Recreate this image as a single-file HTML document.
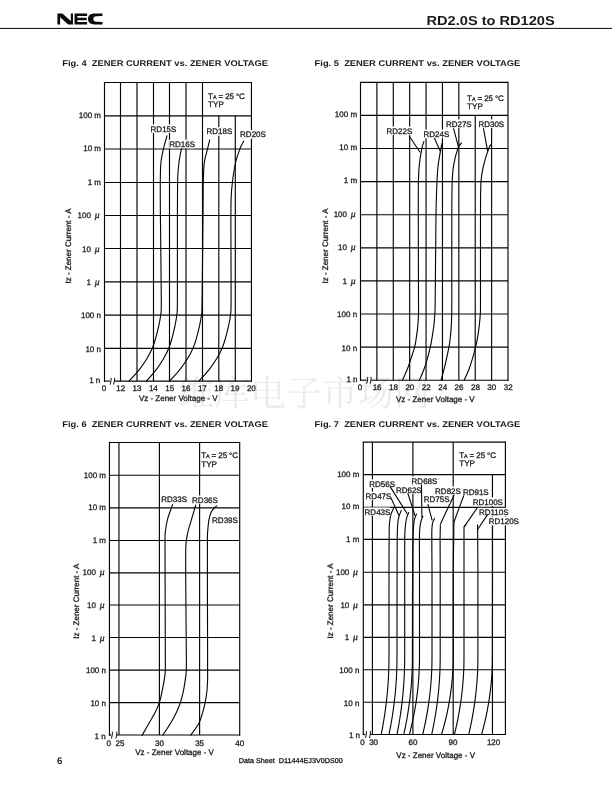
<!DOCTYPE html>
<html><head><meta charset="utf-8"><title>RD2.0S to RD120S</title>
<style>
html,body{margin:0;padding:0;background:#fff;}
body{width:612px;height:792px;overflow:hidden;font-family:"Liberation Sans", sans-serif;}
svg{display:block;}
svg text{font-family:"Liberation Sans", sans-serif;stroke:#1e1e1e;stroke-width:0.3px;text-rendering:geometricPrecision;}
svg{filter:grayscale(1);}
</style></head><body>
<svg width="612" height="792" viewBox="0 0 612 792">
<rect x="0" y="0" width="612" height="792" fill="#ffffff"/>
<text x="178" y="405.5" font-size="36" textLength="252" lengthAdjust="spacingAndGlyphs" style='font-family:"Liberation Serif","Noto Serif CJK SC",serif;stroke:none' fill="#ebebeb">维库电子市场网</text>
<line x1="0.00" y1="28.40" x2="612.00" y2="28.40" stroke="#050505" stroke-width="1.0"/>
<g fill="#0c0c0c"><path d="M57.4,24.4 V13.6 H62.4 L70.8,21.1 V13.6 H73.0 V24.4 H68.1 L60.1,17.2 V24.4 Z"/><path d="M74.5,13.6 H87.1 V16.0 H77.4 V17.8 H86.7 V20.2 H77.4 V22.1 H87.1 V24.4 H74.5 Z"/><path d="M102.5,13.6 V15.9 L96.5,16.2 C94.3,16.2 93.3,17.4 93.3,19.0 C93.3,20.6 94.3,21.8 96.5,21.8 L102.5,22.1 V24.4 H94.5 C90.3,24.4 88.0,22.2 88.0,19.0 C88.0,15.8 90.3,13.6 94.5,13.6 Z"/></g>
<text x="426.5" y="24.7" font-size="13" font-weight="bold" style="stroke:none" textLength="128.2" lengthAdjust="spacingAndGlyphs" fill="#1a1a1a">RD2.0S to RD120S</text>
<text x="62.3" y="66.0" font-size="8.3" font-weight="bold" style="stroke:none" textLength="205.6" lengthAdjust="spacingAndGlyphs" fill="#1a1a1a">Fig. 4&#160;&#160;ZENER CURRENT vs. ZENER VOLTAGE</text>
<line x1="104.50" y1="82.45" x2="251.45" y2="82.45" stroke="#050505" stroke-width="1.15"/>
<line x1="104.50" y1="115.80" x2="251.45" y2="115.80" stroke="#050505" stroke-width="1.15"/>
<line x1="104.50" y1="149.00" x2="251.45" y2="149.00" stroke="#050505" stroke-width="1.15"/>
<line x1="104.50" y1="182.45" x2="251.45" y2="182.45" stroke="#050505" stroke-width="1.15"/>
<line x1="104.50" y1="215.50" x2="251.45" y2="215.50" stroke="#050505" stroke-width="1.15"/>
<line x1="104.50" y1="248.50" x2="251.45" y2="248.50" stroke="#050505" stroke-width="1.15"/>
<line x1="104.50" y1="281.80" x2="251.45" y2="281.80" stroke="#050505" stroke-width="1.15"/>
<line x1="104.50" y1="315.10" x2="251.45" y2="315.10" stroke="#050505" stroke-width="1.15"/>
<line x1="104.50" y1="348.40" x2="251.45" y2="348.40" stroke="#050505" stroke-width="1.15"/>
<line x1="103.92" y1="381.10" x2="110.00" y2="381.10" stroke="#050505" stroke-width="1.15"/>
<line x1="114.30" y1="381.10" x2="252.02" y2="381.10" stroke="#050505" stroke-width="1.15"/>
<path d="M111.10,377.80 Q111.50,380.60 110.10,384.60" fill="none" stroke="#050505" stroke-width="0.95"/>
<path d="M114.50,377.80 Q114.90,380.60 113.50,384.60" fill="none" stroke="#050505" stroke-width="0.95"/>
<line x1="104.50" y1="81.88" x2="104.50" y2="381.68" stroke="#050505" stroke-width="1.15"/>
<line x1="251.45" y1="81.88" x2="251.45" y2="381.68" stroke="#050505" stroke-width="1.15"/>
<line x1="120.50" y1="82.45" x2="120.50" y2="381.10" stroke="#050505" stroke-width="1.15"/>
<line x1="137.00" y1="82.45" x2="137.00" y2="381.10" stroke="#050505" stroke-width="1.15"/>
<line x1="153.50" y1="82.45" x2="153.50" y2="381.10" stroke="#050505" stroke-width="1.15"/>
<line x1="169.50" y1="82.45" x2="169.50" y2="381.10" stroke="#050505" stroke-width="1.15"/>
<line x1="186.00" y1="82.45" x2="186.00" y2="381.10" stroke="#050505" stroke-width="1.15"/>
<line x1="202.50" y1="82.45" x2="202.50" y2="381.10" stroke="#050505" stroke-width="1.15"/>
<line x1="218.80" y1="115.80" x2="218.80" y2="381.10" stroke="#050505" stroke-width="1.15"/>
<line x1="235.30" y1="115.80" x2="235.30" y2="381.10" stroke="#050505" stroke-width="1.15"/>
<text x="208.1" y="98.9" font-size="8" textLength="36.8" fill="#1e1e1e">T<tspan font-size="5.4">A</tspan> = 25 &#176;C</text>
<text x="208.1" y="106.65" font-size="8.1" fill="#1e1e1e">TYP</text>
<text x="101.00" y="117.90" font-size="8" text-anchor="end" fill="#1e1e1e">100 m</text>
<text x="101.00" y="151.32" font-size="8" text-anchor="end" fill="#1e1e1e">10 m</text>
<text x="101.00" y="184.74" font-size="8" text-anchor="end" fill="#1e1e1e">1 m</text>
<text x="90.90" y="218.16" font-size="8" text-anchor="end" fill="#1e1e1e">100</text>
<text x="94.70" y="218.16" font-size="9.6" font-style="italic" style='font-family:"Liberation Serif",serif' fill="#1e1e1e">&#956;</text>
<text x="90.90" y="251.58" font-size="8" text-anchor="end" fill="#1e1e1e">10</text>
<text x="94.70" y="251.58" font-size="9.6" font-style="italic" style='font-family:"Liberation Serif",serif' fill="#1e1e1e">&#956;</text>
<text x="90.90" y="285.00" font-size="8" text-anchor="end" fill="#1e1e1e">1</text>
<text x="94.70" y="285.00" font-size="9.6" font-style="italic" style='font-family:"Liberation Serif",serif' fill="#1e1e1e">&#956;</text>
<text x="101.00" y="318.42" font-size="8" text-anchor="end" fill="#1e1e1e">100 n</text>
<text x="101.00" y="351.84" font-size="8" text-anchor="end" fill="#1e1e1e">10 n</text>
<text x="100.3" y="382.5" font-size="8" text-anchor="end" fill="#1e1e1e">1 n</text>
<text transform="translate(71.2,246.0) rotate(-90)" font-size="8" text-anchor="middle" fill="#1e1e1e">Iz - Zener Current - A</text>
<text x="103.9" y="390.5" font-size="8" text-anchor="middle" fill="#1e1e1e">0</text>
<text x="120.73" y="390.5" font-size="8" text-anchor="middle" fill="#1e1e1e">12</text>
<text x="137.06" y="390.5" font-size="8" text-anchor="middle" fill="#1e1e1e">13</text>
<text x="153.39000000000001" y="390.5" font-size="8" text-anchor="middle" fill="#1e1e1e">14</text>
<text x="169.72" y="390.5" font-size="8" text-anchor="middle" fill="#1e1e1e">15</text>
<text x="186.04999999999998" y="390.5" font-size="8" text-anchor="middle" fill="#1e1e1e">16</text>
<text x="202.38" y="390.5" font-size="8" text-anchor="middle" fill="#1e1e1e">17</text>
<text x="218.71" y="390.5" font-size="8" text-anchor="middle" fill="#1e1e1e">18</text>
<text x="235.04" y="390.5" font-size="8" text-anchor="middle" fill="#1e1e1e">19</text>
<text x="251.36999999999998" y="390.5" font-size="8" text-anchor="middle" fill="#1e1e1e">20</text>
<text x="138.9" y="400.8" font-size="8" fill="#1e1e1e">Vz - Zener Voltage - V</text>
<path d="M167.00,135.90 C166.40,138.10 164.42,144.67 163.40,149.10 C162.38,153.53 161.42,156.98 160.90,162.50 C160.38,168.02 160.38,173.45 160.30,182.20 C160.22,190.95 160.23,195.37 160.40,215.00 C160.57,234.63 161.25,283.38 161.30,300.00 C161.35,316.62 161.13,310.38 160.70,314.73 C160.27,319.08 159.58,322.02 158.70,326.10 C157.82,330.18 156.45,335.56 155.40,339.20 C154.35,342.84 153.83,344.65 152.40,347.91 C150.97,351.18 148.95,355.24 146.80,358.80 C144.65,362.36 142.45,365.58 139.50,369.30 C136.55,373.02 130.83,379.13 129.10,381.10" fill="none" stroke="#050505" stroke-width="1.12" stroke-linecap="round"/>
<path d="M181.80,147.30 C181.43,149.08 180.20,154.22 179.60,158.00 C179.00,161.78 178.53,165.97 178.20,170.00 C177.87,174.03 177.73,174.70 177.60,182.20 C177.47,189.70 177.43,195.37 177.40,215.00 C177.37,234.63 177.50,283.38 177.40,300.00 C177.30,316.62 177.24,310.38 176.82,314.73 C176.41,319.08 175.75,322.02 174.90,326.10 C174.06,330.18 172.74,335.56 171.74,339.20 C170.73,342.84 170.23,344.65 168.86,347.91 C167.48,351.18 165.54,355.24 163.48,358.80 C161.42,362.36 159.30,365.58 156.47,369.30 C153.64,373.02 148.15,379.13 146.49,381.10" fill="none" stroke="#050505" stroke-width="1.12" stroke-linecap="round"/>
<path d="M209.70,139.80 C209.33,141.35 208.40,145.32 207.50,149.10 C206.60,152.88 205.00,156.98 204.30,162.50 C203.60,168.02 203.52,173.45 203.30,182.20 C203.08,190.95 203.20,195.37 203.00,215.00 C202.80,234.63 202.35,283.38 202.10,300.00 C201.85,316.62 201.93,310.38 201.49,314.73 C201.06,319.08 200.37,322.02 199.47,326.10 C198.58,330.18 197.20,335.56 196.14,339.20 C195.08,342.84 194.56,344.65 193.11,347.91 C191.66,351.18 189.63,355.24 187.45,358.80 C185.28,362.36 183.06,365.58 180.08,369.30 C177.10,373.02 171.33,379.13 169.58,381.10" fill="none" stroke="#050505" stroke-width="1.12" stroke-linecap="round"/>
<path d="M243.70,141.20 C243.05,142.52 241.15,145.55 239.80,149.10 C238.45,152.65 236.83,156.98 235.60,162.50 C234.37,168.02 233.15,176.12 232.40,182.20 C231.65,188.28 231.35,191.03 231.10,199.00 C230.85,206.97 230.90,213.17 230.90,230.00 C230.90,246.83 231.17,285.88 231.10,300.00 C231.03,314.12 230.93,310.38 230.50,314.73 C230.07,319.08 229.38,322.02 228.50,326.10 C227.62,330.18 226.25,335.56 225.20,339.20 C224.15,342.84 223.63,344.65 222.20,347.91 C220.77,351.18 218.75,355.24 216.60,358.80 C214.45,362.36 212.25,365.58 209.30,369.30 C206.35,373.02 200.63,379.13 198.90,381.10" fill="none" stroke="#050505" stroke-width="1.12" stroke-linecap="round"/>
<rect x="150.20" y="124.40" width="25.60" height="8.6" fill="#fff"/>
<rect x="168.90" y="139.70" width="25.90" height="8.6" fill="#fff"/>
<rect x="206.10" y="127.10" width="25.50" height="8.6" fill="#fff"/>
<rect x="239.70" y="130.00" width="25.50" height="8.6" fill="#fff"/>
<text x="150.60" y="131.60" font-size="8" fill="#1e1e1e">RD15S</text>
<text x="169.30" y="146.90" font-size="8" fill="#1e1e1e">RD16S</text>
<text x="206.50" y="134.30" font-size="8" fill="#1e1e1e">RD18S</text>
<text x="240.10" y="137.20" font-size="8" fill="#1e1e1e">RD20S</text>
<text x="314.6" y="66.0" font-size="8.3" font-weight="bold" style="stroke:none" textLength="205.6" lengthAdjust="spacingAndGlyphs" fill="#1a1a1a">Fig. 5&#160;&#160;ZENER CURRENT vs. ZENER VOLTAGE</text>
<line x1="360.50" y1="82.30" x2="508.00" y2="82.30" stroke="#050505" stroke-width="1.15"/>
<line x1="360.50" y1="115.40" x2="508.00" y2="115.40" stroke="#050505" stroke-width="1.15"/>
<line x1="360.50" y1="148.50" x2="508.00" y2="148.50" stroke="#050505" stroke-width="1.15"/>
<line x1="360.50" y1="181.60" x2="508.00" y2="181.60" stroke="#050505" stroke-width="1.15"/>
<line x1="360.50" y1="214.70" x2="508.00" y2="214.70" stroke="#050505" stroke-width="1.15"/>
<line x1="360.50" y1="247.80" x2="508.00" y2="247.80" stroke="#050505" stroke-width="1.15"/>
<line x1="360.50" y1="280.90" x2="508.00" y2="280.90" stroke="#050505" stroke-width="1.15"/>
<line x1="360.50" y1="314.00" x2="508.00" y2="314.00" stroke="#050505" stroke-width="1.15"/>
<line x1="360.50" y1="347.10" x2="508.00" y2="347.10" stroke="#050505" stroke-width="1.15"/>
<line x1="359.93" y1="380.20" x2="366.60" y2="380.20" stroke="#050505" stroke-width="1.15"/>
<line x1="370.90" y1="380.20" x2="508.57" y2="380.20" stroke="#050505" stroke-width="1.15"/>
<path d="M367.70,376.90 Q368.10,379.70 366.70,383.70" fill="none" stroke="#050505" stroke-width="0.95"/>
<path d="M371.10,376.90 Q371.50,379.70 370.10,383.70" fill="none" stroke="#050505" stroke-width="0.95"/>
<line x1="360.50" y1="81.72" x2="360.50" y2="380.78" stroke="#050505" stroke-width="1.15"/>
<line x1="508.00" y1="81.72" x2="508.00" y2="380.78" stroke="#050505" stroke-width="1.15"/>
<line x1="376.89" y1="82.30" x2="376.89" y2="380.20" stroke="#050505" stroke-width="1.15"/>
<line x1="393.28" y1="82.30" x2="393.28" y2="380.20" stroke="#050505" stroke-width="1.15"/>
<line x1="409.67" y1="82.30" x2="409.67" y2="380.20" stroke="#050505" stroke-width="1.15"/>
<line x1="426.06" y1="82.30" x2="426.06" y2="380.20" stroke="#050505" stroke-width="1.15"/>
<line x1="442.45" y1="82.30" x2="442.45" y2="380.20" stroke="#050505" stroke-width="1.15"/>
<line x1="458.84" y1="82.30" x2="458.84" y2="380.20" stroke="#050505" stroke-width="1.15"/>
<line x1="475.23" y1="115.40" x2="475.23" y2="380.20" stroke="#050505" stroke-width="1.15"/>
<line x1="491.62" y1="115.40" x2="491.62" y2="380.20" stroke="#050505" stroke-width="1.15"/>
<text x="467.1" y="100.65" font-size="8" textLength="36.8" fill="#1e1e1e">T<tspan font-size="5.4">A</tspan> = 25 &#176;C</text>
<text x="467.1" y="108.50" font-size="8.1" fill="#1e1e1e">TYP</text>
<text x="357.10" y="116.65" font-size="8" text-anchor="end" fill="#1e1e1e">100 m</text>
<text x="357.10" y="150.07" font-size="8" text-anchor="end" fill="#1e1e1e">10 m</text>
<text x="357.10" y="183.49" font-size="8" text-anchor="end" fill="#1e1e1e">1 m</text>
<text x="347.00" y="216.91" font-size="8" text-anchor="end" fill="#1e1e1e">100</text>
<text x="350.80" y="216.91" font-size="9.6" font-style="italic" style='font-family:"Liberation Serif",serif' fill="#1e1e1e">&#956;</text>
<text x="347.00" y="250.33" font-size="8" text-anchor="end" fill="#1e1e1e">10</text>
<text x="350.80" y="250.33" font-size="9.6" font-style="italic" style='font-family:"Liberation Serif",serif' fill="#1e1e1e">&#956;</text>
<text x="347.00" y="283.75" font-size="8" text-anchor="end" fill="#1e1e1e">1</text>
<text x="350.80" y="283.75" font-size="9.6" font-style="italic" style='font-family:"Liberation Serif",serif' fill="#1e1e1e">&#956;</text>
<text x="357.10" y="317.17" font-size="8" text-anchor="end" fill="#1e1e1e">100 n</text>
<text x="357.10" y="350.59" font-size="8" text-anchor="end" fill="#1e1e1e">10 n</text>
<text x="357.5" y="381.8" font-size="8" text-anchor="end" fill="#1e1e1e">1 n</text>
<text transform="translate(327.8,246.0) rotate(-90)" font-size="8" text-anchor="middle" fill="#1e1e1e">Iz - Zener Current - A</text>
<text x="359.9" y="389.6" font-size="8" text-anchor="middle" fill="#1e1e1e">0</text>
<text x="377.09" y="389.6" font-size="8" text-anchor="middle" fill="#1e1e1e">16</text>
<text x="393.47999999999996" y="389.6" font-size="8" text-anchor="middle" fill="#1e1e1e">18</text>
<text x="409.87" y="389.6" font-size="8" text-anchor="middle" fill="#1e1e1e">20</text>
<text x="426.26" y="389.6" font-size="8" text-anchor="middle" fill="#1e1e1e">22</text>
<text x="442.65" y="389.6" font-size="8" text-anchor="middle" fill="#1e1e1e">24</text>
<text x="459.04" y="389.6" font-size="8" text-anchor="middle" fill="#1e1e1e">26</text>
<text x="475.43" y="389.6" font-size="8" text-anchor="middle" fill="#1e1e1e">28</text>
<text x="491.82" y="389.6" font-size="8" text-anchor="middle" fill="#1e1e1e">30</text>
<text x="508.21" y="389.6" font-size="8" text-anchor="middle" fill="#1e1e1e">32</text>
<text x="396.0" y="402.0" font-size="8" fill="#1e1e1e">Vz - Zener Voltage - V</text>
<path d="M423.90,141.60 C423.57,142.73 422.67,144.52 421.90,148.40 C421.13,152.28 419.88,159.37 419.30,164.90 C418.72,170.43 418.57,173.25 418.40,181.60 C418.23,189.95 418.28,195.27 418.30,215.00 C418.32,234.73 418.47,283.50 418.50,300.00 C418.53,316.50 418.62,309.65 418.50,314.00 C418.38,318.35 418.20,321.90 417.80,326.10 C417.40,330.30 416.63,335.70 416.10,339.20 C415.57,342.70 415.47,343.83 414.60,347.10 C413.73,350.37 412.12,355.10 410.90,358.80 C409.68,362.50 408.72,365.73 407.30,369.30 C405.88,372.87 403.22,378.38 402.40,380.20" fill="none" stroke="#050505" stroke-width="1.12" stroke-linecap="round"/>
<path d="M442.20,143.00 C442.00,143.90 441.67,144.75 441.00,148.40 C440.33,152.05 438.87,159.37 438.20,164.90 C437.53,170.43 437.37,173.25 437.00,181.60 C436.63,189.95 436.30,195.27 436.00,215.00 C435.70,234.73 435.40,283.50 435.20,300.00 C435.00,316.50 435.03,309.65 434.80,314.00 C434.57,318.35 434.30,321.90 433.80,326.10 C433.30,330.30 432.38,335.70 431.80,339.20 C431.22,342.70 431.05,343.83 430.30,347.10 C429.55,350.37 428.35,355.10 427.30,358.80 C426.25,362.50 425.32,365.73 424.00,369.30 C422.68,372.87 420.17,378.38 419.40,380.20" fill="none" stroke="#050505" stroke-width="1.12" stroke-linecap="round"/>
<path d="M461.60,143.00 C460.98,143.90 459.22,144.75 457.90,148.40 C456.58,152.05 454.65,159.37 453.70,164.90 C452.75,170.43 452.52,173.25 452.20,181.60 C451.88,189.95 451.87,195.27 451.80,215.00 C451.73,234.73 451.82,283.50 451.80,300.00 C451.78,316.50 451.78,309.65 451.70,314.00 C451.62,318.35 451.57,321.90 451.30,326.10 C451.03,330.30 450.50,335.70 450.10,339.20 C449.70,342.70 449.50,343.83 448.90,347.10 C448.30,350.37 447.32,355.10 446.50,358.80 C445.68,362.50 444.90,365.73 444.00,369.30 C443.10,372.87 441.58,378.38 441.10,380.20" fill="none" stroke="#050505" stroke-width="1.12" stroke-linecap="round"/>
<path d="M491.30,144.30 C490.88,144.98 490.07,144.97 488.80,148.40 C487.53,151.83 485.00,159.37 483.70,164.90 C482.40,170.43 481.53,173.25 481.00,181.60 C480.47,189.95 480.58,195.27 480.50,215.00 C480.42,234.73 480.53,283.50 480.50,300.00 C480.47,316.50 480.52,309.65 480.30,314.00 C480.08,318.35 479.70,321.90 479.20,326.10 C478.70,330.30 477.90,335.70 477.30,339.20 C476.70,342.70 476.42,343.83 475.60,347.10 C474.78,350.37 473.50,355.10 472.40,358.80 C471.30,362.50 470.37,365.73 469.00,369.30 C467.63,372.87 465.00,378.38 464.20,380.20" fill="none" stroke="#050505" stroke-width="1.12" stroke-linecap="round"/>
<rect x="386.10" y="126.50" width="25.80" height="8.6" fill="#fff"/>
<rect x="423.10" y="129.50" width="26.10" height="8.6" fill="#fff"/>
<rect x="445.50" y="119.40" width="26.00" height="8.6" fill="#fff"/>
<rect x="478.00" y="119.40" width="26.10" height="8.6" fill="#fff"/>
<path d="M409.30,136.30 L419.90,152.00" fill="none" stroke="#050505" stroke-width="1.1" stroke-linecap="round"/>
<path d="M434.50,138.20 L439.90,150.60" fill="none" stroke="#050505" stroke-width="1.1" stroke-linecap="round"/>
<path d="M453.60,128.60 L458.50,147.20" fill="none" stroke="#050505" stroke-width="1.1" stroke-linecap="round"/>
<path d="M483.50,128.60 L487.60,150.80" fill="none" stroke="#050505" stroke-width="1.1" stroke-linecap="round"/>
<text x="386.50" y="133.70" font-size="8" fill="#1e1e1e">RD22S</text>
<text x="423.50" y="136.70" font-size="8" fill="#1e1e1e">RD24S</text>
<text x="445.90" y="126.60" font-size="8" fill="#1e1e1e">RD27S</text>
<text x="478.40" y="126.60" font-size="8" fill="#1e1e1e">RD30S</text>
<text x="62.3" y="426.5" font-size="8.3" font-weight="bold" style="stroke:none" textLength="205.6" lengthAdjust="spacingAndGlyphs" fill="#1a1a1a">Fig. 6&#160;&#160;ZENER CURRENT vs. ZENER VOLTAGE</text>
<line x1="109.45" y1="442.45" x2="239.70" y2="442.45" stroke="#050505" stroke-width="1.15"/>
<line x1="109.45" y1="475.20" x2="239.70" y2="475.20" stroke="#050505" stroke-width="1.15"/>
<line x1="109.45" y1="507.80" x2="239.70" y2="507.80" stroke="#050505" stroke-width="1.15"/>
<line x1="109.45" y1="540.50" x2="239.70" y2="540.50" stroke="#050505" stroke-width="1.15"/>
<line x1="109.45" y1="572.80" x2="239.70" y2="572.80" stroke="#050505" stroke-width="1.15"/>
<line x1="109.45" y1="605.00" x2="239.70" y2="605.00" stroke="#050505" stroke-width="1.15"/>
<line x1="109.45" y1="637.50" x2="239.70" y2="637.50" stroke="#050505" stroke-width="1.15"/>
<line x1="109.45" y1="670.10" x2="239.70" y2="670.10" stroke="#050505" stroke-width="1.15"/>
<line x1="109.45" y1="702.60" x2="239.70" y2="702.60" stroke="#050505" stroke-width="1.15"/>
<line x1="108.88" y1="735.00" x2="111.30" y2="735.00" stroke="#050505" stroke-width="1.15"/>
<line x1="116.60" y1="735.00" x2="240.27" y2="735.00" stroke="#050505" stroke-width="1.15"/>
<path d="M112.40,731.70 Q112.80,734.50 111.40,738.50" fill="none" stroke="#050505" stroke-width="0.95"/>
<path d="M116.80,731.70 Q117.20,734.50 115.80,738.50" fill="none" stroke="#050505" stroke-width="0.95"/>
<line x1="109.45" y1="441.82" x2="109.45" y2="735.58" stroke="#050505" stroke-width="1.15"/>
<line x1="239.70" y1="441.82" x2="239.70" y2="735.58" stroke="#050505" stroke-width="1.15"/>
<line x1="118.95" y1="442.40" x2="118.95" y2="735.00" stroke="#050505" stroke-width="1.15"/>
<line x1="159.40" y1="442.40" x2="159.40" y2="735.00" stroke="#050505" stroke-width="1.15"/>
<line x1="199.60" y1="442.40" x2="199.60" y2="735.00" stroke="#050505" stroke-width="1.15"/>
<text x="201.2" y="457.75" font-size="8" textLength="36.8" fill="#1e1e1e">T<tspan font-size="5.4">A</tspan> = 25 &#176;C</text>
<text x="201.2" y="466.55" font-size="8.1" fill="#1e1e1e">TYP</text>
<text x="106.00" y="477.50" font-size="8" text-anchor="end" fill="#1e1e1e">100 m</text>
<text x="106.00" y="510.10" font-size="8" text-anchor="end" fill="#1e1e1e">10 m</text>
<text x="106.00" y="542.70" font-size="8" text-anchor="end" fill="#1e1e1e">1 m</text>
<text x="95.90" y="575.30" font-size="8" text-anchor="end" fill="#1e1e1e">100</text>
<text x="99.70" y="575.30" font-size="9.6" font-style="italic" style='font-family:"Liberation Serif",serif' fill="#1e1e1e">&#956;</text>
<text x="95.90" y="607.90" font-size="8" text-anchor="end" fill="#1e1e1e">10</text>
<text x="99.70" y="607.90" font-size="9.6" font-style="italic" style='font-family:"Liberation Serif",serif' fill="#1e1e1e">&#956;</text>
<text x="95.90" y="640.50" font-size="8" text-anchor="end" fill="#1e1e1e">1</text>
<text x="99.70" y="640.50" font-size="9.6" font-style="italic" style='font-family:"Liberation Serif",serif' fill="#1e1e1e">&#956;</text>
<text x="106.00" y="673.10" font-size="8" text-anchor="end" fill="#1e1e1e">100 n</text>
<text x="106.00" y="705.70" font-size="8" text-anchor="end" fill="#1e1e1e">10 n</text>
<text x="105.6" y="738.7" font-size="8" text-anchor="end" fill="#1e1e1e">1 n</text>
<text transform="translate(79.4,601.2) rotate(-90)" font-size="8" text-anchor="middle" fill="#1e1e1e">Iz - Zener Current - A</text>
<text x="108.8" y="745.7" font-size="8" text-anchor="middle" fill="#1e1e1e">0</text>
<text x="119.9" y="745.7" font-size="8" text-anchor="middle" fill="#1e1e1e">25</text>
<text x="159.4" y="745.7" font-size="8" text-anchor="middle" fill="#1e1e1e">30</text>
<text x="199.6" y="745.7" font-size="8" text-anchor="middle" fill="#1e1e1e">35</text>
<text x="239.8" y="745.7" font-size="8" text-anchor="middle" fill="#1e1e1e">40</text>
<text x="135.2" y="755.2" font-size="8" fill="#1e1e1e">Vz - Zener Voltage - V</text>
<path d="M172.60,504.70 C172.42,505.18 172.35,505.15 171.50,507.60 C170.65,510.05 168.52,515.47 167.50,519.40 C166.48,523.33 165.82,527.72 165.40,531.20 C164.98,534.68 165.05,532.17 165.00,540.30 C164.95,548.43 165.05,561.72 165.10,580.00 C165.15,598.28 165.27,634.98 165.30,650.00 C165.33,665.02 165.47,665.20 165.30,670.10 C165.13,675.00 164.83,675.88 164.30,679.40 C163.77,682.92 162.92,687.33 162.10,691.20 C161.28,695.07 160.63,698.96 159.40,702.62 C158.17,706.29 156.47,709.72 154.70,713.20 C152.93,716.68 150.88,719.84 148.80,723.50 C146.72,727.16 143.30,733.21 142.20,735.15" fill="none" stroke="#050505" stroke-width="1.12" stroke-linecap="round"/>
<path d="M195.70,505.10 C195.58,505.52 195.70,505.22 195.00,507.60 C194.30,509.98 192.65,515.47 191.50,519.40 C190.35,523.33 188.95,527.72 188.10,531.20 C187.25,534.68 186.80,536.87 186.40,540.30 C186.00,543.73 185.80,543.52 185.70,551.80 C185.60,560.08 185.70,573.63 185.80,590.00 C185.90,606.37 186.22,636.65 186.30,650.00 C186.38,663.35 186.47,665.20 186.30,670.10 C186.13,675.00 185.78,675.88 185.30,679.40 C184.82,682.92 184.22,687.33 183.40,691.20 C182.58,695.07 181.63,698.96 180.40,702.62 C179.17,706.29 177.67,709.72 176.00,713.20 C174.33,716.68 172.60,719.84 170.40,723.50 C168.20,727.16 164.07,733.21 162.80,735.15" fill="none" stroke="#050505" stroke-width="1.12" stroke-linecap="round"/>
<path d="M216.80,505.90 C216.43,506.18 215.52,506.58 214.60,507.60 C213.68,508.62 212.23,510.03 211.30,512.00 C210.37,513.97 209.60,516.20 209.00,519.40 C208.40,522.60 207.97,527.72 207.70,531.20 C207.43,534.68 207.45,532.17 207.40,540.30 C207.35,548.43 207.37,561.72 207.40,580.00 C207.43,598.28 207.57,634.98 207.60,650.00 C207.63,665.02 207.60,665.20 207.60,670.10 C207.60,675.00 207.72,675.88 207.60,679.40 C207.48,682.92 207.32,687.33 206.90,691.20 C206.48,695.07 205.83,698.96 205.10,702.62 C204.37,706.29 203.55,709.72 202.50,713.20 C201.45,716.68 200.77,719.84 198.80,723.50 C196.83,727.16 192.05,733.21 190.70,735.15" fill="none" stroke="#050505" stroke-width="1.12" stroke-linecap="round"/>
<rect x="160.80" y="494.30" width="26.30" height="8.6" fill="#fff"/>
<rect x="191.70" y="495.40" width="26.30" height="8.6" fill="#fff"/>
<rect x="211.70" y="515.40" width="26.20" height="8.6" fill="#fff"/>
<text x="161.20" y="501.50" font-size="8" fill="#1e1e1e">RD33S</text>
<text x="192.10" y="502.60" font-size="8" fill="#1e1e1e">RD36S</text>
<text x="212.10" y="522.60" font-size="8" fill="#1e1e1e">RD39S</text>
<text x="314.6" y="426.5" font-size="8.3" font-weight="bold" style="stroke:none" textLength="205.6" lengthAdjust="spacingAndGlyphs" fill="#1a1a1a">Fig. 7&#160;&#160;ZENER CURRENT vs. ZENER VOLTAGE</text>
<line x1="363.30" y1="442.05" x2="505.40" y2="442.05" stroke="#050505" stroke-width="1.15"/>
<line x1="363.30" y1="474.60" x2="505.40" y2="474.60" stroke="#050505" stroke-width="1.15"/>
<line x1="363.30" y1="507.35" x2="505.40" y2="507.35" stroke="#050505" stroke-width="1.15"/>
<line x1="363.30" y1="539.40" x2="505.40" y2="539.40" stroke="#050505" stroke-width="1.15"/>
<line x1="363.30" y1="572.20" x2="505.40" y2="572.20" stroke="#050505" stroke-width="1.15"/>
<line x1="363.30" y1="604.80" x2="505.40" y2="604.80" stroke="#050505" stroke-width="1.15"/>
<line x1="363.30" y1="637.30" x2="505.40" y2="637.30" stroke="#050505" stroke-width="1.15"/>
<line x1="363.30" y1="669.70" x2="505.40" y2="669.70" stroke="#050505" stroke-width="1.15"/>
<line x1="363.30" y1="702.25" x2="505.40" y2="702.25" stroke="#050505" stroke-width="1.15"/>
<line x1="362.73" y1="734.50" x2="365.30" y2="734.50" stroke="#050505" stroke-width="1.15"/>
<line x1="370.20" y1="734.50" x2="505.97" y2="734.50" stroke="#050505" stroke-width="1.15"/>
<path d="M366.40,731.20 Q366.80,734.00 365.40,738.00" fill="none" stroke="#050505" stroke-width="0.95"/>
<path d="M370.40,731.20 Q370.80,734.00 369.40,738.00" fill="none" stroke="#050505" stroke-width="0.95"/>
<line x1="363.30" y1="441.48" x2="363.30" y2="735.08" stroke="#050505" stroke-width="1.15"/>
<line x1="505.40" y1="441.48" x2="505.40" y2="735.08" stroke="#050505" stroke-width="1.15"/>
<line x1="372.40" y1="442.05" x2="372.40" y2="734.50" stroke="#050505" stroke-width="1.15"/>
<line x1="412.90" y1="442.05" x2="412.90" y2="734.50" stroke="#050505" stroke-width="1.15"/>
<line x1="453.20" y1="442.05" x2="453.20" y2="734.50" stroke="#050505" stroke-width="1.15"/>
<line x1="492.45" y1="474.60" x2="492.45" y2="734.50" stroke="#050505" stroke-width="1.15"/>
<text x="459.2" y="457.8" font-size="8" textLength="36.8" fill="#1e1e1e">T<tspan font-size="5.4">A</tspan> = 25 &#176;C</text>
<text x="459.2" y="465.90" font-size="8.1" fill="#1e1e1e">TYP</text>
<text x="359.40" y="476.76" font-size="8" text-anchor="end" fill="#1e1e1e">100 m</text>
<text x="359.40" y="509.46" font-size="8" text-anchor="end" fill="#1e1e1e">10 m</text>
<text x="359.40" y="542.16" font-size="8" text-anchor="end" fill="#1e1e1e">1 m</text>
<text x="349.30" y="574.86" font-size="8" text-anchor="end" fill="#1e1e1e">100</text>
<text x="353.10" y="574.86" font-size="9.6" font-style="italic" style='font-family:"Liberation Serif",serif' fill="#1e1e1e">&#956;</text>
<text x="349.30" y="607.56" font-size="8" text-anchor="end" fill="#1e1e1e">10</text>
<text x="353.10" y="607.56" font-size="9.6" font-style="italic" style='font-family:"Liberation Serif",serif' fill="#1e1e1e">&#956;</text>
<text x="349.30" y="640.26" font-size="8" text-anchor="end" fill="#1e1e1e">1</text>
<text x="353.10" y="640.26" font-size="9.6" font-style="italic" style='font-family:"Liberation Serif",serif' fill="#1e1e1e">&#956;</text>
<text x="359.40" y="672.96" font-size="8" text-anchor="end" fill="#1e1e1e">100 n</text>
<text x="359.40" y="705.66" font-size="8" text-anchor="end" fill="#1e1e1e">10 n</text>
<text x="360.0" y="737.6" font-size="8" text-anchor="end" fill="#1e1e1e">1 n</text>
<text transform="translate(333.0,601.0) rotate(-90)" font-size="8" text-anchor="middle" fill="#1e1e1e">Iz - Zener Current - A</text>
<text x="362.4" y="744.8" font-size="8" text-anchor="middle" fill="#1e1e1e">0</text>
<text x="373.6" y="744.8" font-size="8" text-anchor="middle" fill="#1e1e1e">30</text>
<text x="413.0" y="744.8" font-size="8" text-anchor="middle" fill="#1e1e1e">60</text>
<text x="452.9" y="744.8" font-size="8" text-anchor="middle" fill="#1e1e1e">90</text>
<text x="493.6" y="744.8" font-size="8" text-anchor="middle" fill="#1e1e1e">120</text>
<text x="396.3" y="757.6" font-size="8" fill="#1e1e1e">Vz - Zener Voltage - V</text>
<path d="M393.50,508.50 C393.08,509.43 391.63,511.93 391.00,514.10 C390.37,516.27 390.00,519.05 389.70,521.50 C389.40,523.95 389.32,522.38 389.20,528.80 C389.08,535.22 389.03,541.47 389.00,560.00 C388.97,578.53 389.00,623.83 389.00,640.00 C389.00,656.17 389.02,652.73 389.00,657.00 C388.98,661.27 388.97,662.74 388.90,665.61 C388.84,668.48 388.74,671.35 388.61,674.22 C388.49,677.09 388.33,679.96 388.13,682.83 C387.94,685.70 387.72,688.57 387.46,691.44 C387.20,694.31 386.91,697.19 386.59,700.06 C386.27,702.93 385.92,705.80 385.53,708.67 C385.15,711.54 384.73,714.41 384.28,717.28 C383.83,720.15 383.35,723.02 382.84,725.89 C382.32,728.76 381.47,733.06 381.20,734.50" fill="none" stroke="#050505" stroke-width="1.12" stroke-linecap="round"/>
<path d="M401.30,510.40 C400.88,511.52 399.40,514.77 398.80,517.10 C398.20,519.43 397.95,521.42 397.70,524.40 C397.45,527.38 397.40,529.07 397.30,535.00 C397.20,540.93 397.15,542.50 397.10,560.00 C397.05,577.50 397.02,623.83 397.00,640.00 C396.98,656.17 397.02,652.73 397.00,657.00 C396.98,661.27 396.97,662.74 396.90,665.61 C396.84,668.48 396.74,671.35 396.60,674.22 C396.47,677.09 396.31,679.96 396.11,682.83 C395.91,685.70 395.68,688.57 395.42,691.44 C395.16,694.31 394.86,697.19 394.53,700.06 C394.20,702.93 393.84,705.80 393.44,708.67 C393.05,711.54 392.62,714.41 392.16,717.28 C391.70,720.15 391.21,723.02 390.68,725.89 C390.15,728.76 389.28,733.06 389.00,734.50" fill="none" stroke="#050505" stroke-width="1.12" stroke-linecap="round"/>
<path d="M408.70,512.60 C408.33,513.58 407.10,515.80 406.50,518.50 C405.90,521.20 405.40,525.37 405.10,528.80 C404.80,532.23 404.77,532.23 404.70,539.10 C404.63,545.97 404.70,553.18 404.70,570.00 C404.70,586.82 404.70,625.50 404.70,640.00 C404.70,654.50 404.72,652.73 404.70,657.00 C404.68,661.27 404.67,662.74 404.60,665.61 C404.54,668.48 404.45,671.35 404.32,674.22 C404.19,677.09 404.03,679.96 403.84,682.83 C403.65,685.70 403.43,688.57 403.18,691.44 C402.93,694.31 402.64,697.19 402.32,700.06 C402.01,702.93 401.66,705.80 401.28,708.67 C400.90,711.54 400.49,714.41 400.04,717.28 C399.60,720.15 399.12,723.02 398.62,725.89 C398.11,728.76 397.27,733.06 397.00,734.50" fill="none" stroke="#050505" stroke-width="1.12" stroke-linecap="round"/>
<path d="M416.50,514.10 C416.13,515.08 414.82,517.55 414.30,520.00 C413.78,522.45 413.62,525.62 413.40,528.80 C413.18,531.98 413.13,532.23 413.00,539.10 C412.87,545.97 412.70,553.18 412.60,570.00 C412.50,586.82 412.43,625.50 412.40,640.00 C412.37,654.50 412.42,652.73 412.40,657.00 C412.38,661.27 412.36,662.74 412.29,665.61 C412.22,668.48 412.12,671.35 411.98,674.22 C411.83,677.09 411.66,679.96 411.44,682.83 C411.23,685.70 410.98,688.57 410.70,691.44 C410.42,694.31 410.10,697.19 409.75,700.06 C409.39,702.93 409.00,705.80 408.58,708.67 C408.15,711.54 407.69,714.41 407.20,717.28 C406.70,720.15 406.17,723.02 405.60,725.89 C405.04,728.76 404.10,733.06 403.80,734.50" fill="none" stroke="#050505" stroke-width="1.12" stroke-linecap="round"/>
<path d="M422.90,516.30 C422.57,517.17 421.42,519.42 420.90,521.50 C420.38,523.58 420.05,525.87 419.80,528.80 C419.55,531.73 419.45,532.23 419.40,539.10 C419.35,545.97 419.48,553.18 419.50,570.00 C419.52,586.82 419.50,625.50 419.50,640.00 C419.50,654.50 419.52,652.73 419.50,657.00 C419.48,661.27 419.46,662.74 419.38,665.61 C419.29,668.48 419.17,671.35 419.00,674.22 C418.83,677.09 418.63,679.96 418.38,682.83 C418.13,685.70 417.84,688.57 417.50,691.44 C417.17,694.31 416.80,697.19 416.38,700.06 C415.97,702.93 415.51,705.80 415.01,708.67 C414.51,711.54 413.97,714.41 413.39,717.28 C412.81,720.15 412.18,723.02 411.52,725.89 C410.85,728.76 409.75,733.06 409.40,734.50" fill="none" stroke="#050505" stroke-width="1.12" stroke-linecap="round"/>
<path d="M434.50,518.50 C434.18,519.23 433.03,521.18 432.60,522.90 C432.17,524.62 432.03,526.10 431.90,528.80 C431.77,531.50 431.78,532.23 431.80,539.10 C431.82,545.97 431.97,553.18 432.00,570.00 C432.03,586.82 432.00,625.50 432.00,640.00 C432.00,654.50 432.02,652.73 432.00,657.00 C431.98,661.27 431.96,662.74 431.89,665.61 C431.81,668.48 431.69,671.35 431.54,674.22 C431.39,677.09 431.20,679.96 430.97,682.83 C430.74,685.70 430.47,688.57 430.16,691.44 C429.86,694.31 429.51,697.19 429.13,700.06 C428.75,702.93 428.33,705.80 427.87,708.67 C427.41,711.54 426.91,714.41 426.37,717.28 C425.84,720.15 425.26,723.02 424.65,725.89 C424.04,728.76 423.03,733.06 422.70,734.50" fill="none" stroke="#050505" stroke-width="1.12" stroke-linecap="round"/>
<path d="M454.40,494.50 C452.22,499.13 443.63,516.88 441.30,522.30 C438.97,527.72 440.60,524.15 440.40,527.00 C440.20,529.85 440.13,532.23 440.10,539.40 C440.07,546.57 440.18,553.23 440.20,570.00 C440.22,586.77 440.20,625.50 440.20,640.00 C440.20,654.50 440.22,652.73 440.20,657.00 C440.18,661.27 440.17,662.74 440.10,665.61 C440.03,668.48 439.92,671.35 439.78,674.22 C439.64,677.09 439.47,679.96 439.26,682.83 C439.05,685.70 438.80,688.57 438.52,691.44 C438.24,694.31 437.93,697.19 437.58,700.06 C437.23,702.93 436.84,705.80 436.42,708.67 C436.00,711.54 435.55,714.41 435.06,717.28 C434.57,720.15 434.04,723.02 433.48,725.89 C432.92,728.76 432.00,733.06 431.70,734.50" fill="none" stroke="#050505" stroke-width="1.12" stroke-linecap="round"/>
<path d="M454.50,520.50 C454.40,521.08 454.03,520.85 453.90,524.00 C453.77,527.15 453.80,531.73 453.70,539.40 C453.60,547.07 453.38,553.23 453.30,570.00 C453.22,586.77 453.22,625.50 453.20,640.00 C453.18,654.50 453.22,652.73 453.20,657.00 C453.18,661.27 453.15,662.74 453.06,665.61 C452.96,668.48 452.81,671.35 452.62,674.22 C452.43,677.09 452.19,679.96 451.90,682.83 C451.61,685.70 451.27,688.57 450.89,691.44 C450.50,694.31 450.07,697.19 449.59,700.06 C449.11,702.93 448.58,705.80 448.00,708.67 C447.42,711.54 446.80,714.41 446.12,717.28 C445.45,720.15 444.73,723.02 443.96,725.89 C443.19,728.76 441.91,733.06 441.50,734.50" fill="none" stroke="#050505" stroke-width="1.12" stroke-linecap="round"/>
<path d="M465.90,524.60 C465.65,524.92 464.72,525.43 464.40,526.50 C464.08,527.57 464.07,523.75 464.00,531.00 C463.93,538.25 464.00,551.83 464.00,570.00 C464.00,588.17 464.00,625.50 464.00,640.00 C464.00,654.50 464.02,652.73 464.00,657.00 C463.98,661.27 463.96,662.74 463.88,665.61 C463.80,668.48 463.68,671.35 463.53,674.22 C463.37,677.09 463.17,679.96 462.93,682.83 C462.70,685.70 462.42,688.57 462.10,691.44 C461.79,694.31 461.43,697.19 461.04,700.06 C460.64,702.93 460.21,705.80 459.73,708.67 C459.26,711.54 458.75,714.41 458.19,717.28 C457.64,720.15 457.05,723.02 456.41,725.89 C455.78,728.76 454.74,733.06 454.40,734.50" fill="none" stroke="#050505" stroke-width="1.12" stroke-linecap="round"/>
<path d="M477.60,524.70 C477.62,527.25 477.65,532.45 477.70,540.00 C477.75,547.55 477.87,553.33 477.90,570.00 C477.93,586.67 477.90,625.50 477.90,640.00 C477.90,654.50 477.92,652.73 477.90,657.00 C477.88,661.27 477.86,662.74 477.79,665.61 C477.71,668.48 477.60,671.35 477.45,674.22 C477.29,677.09 477.10,679.96 476.88,682.83 C476.65,685.70 476.39,688.57 476.08,691.44 C475.78,694.31 475.44,697.19 475.06,700.06 C474.68,702.93 474.27,705.80 473.81,708.67 C473.36,711.54 472.86,714.41 472.33,717.28 C471.80,720.15 471.24,723.02 470.63,725.89 C470.03,728.76 469.02,733.06 468.70,734.50" fill="none" stroke="#050505" stroke-width="1.12" stroke-linecap="round"/>
<path d="M492.50,524.00 C492.50,531.67 492.52,550.67 492.50,570.00 C492.48,589.33 492.42,625.50 492.40,640.00 C492.38,654.50 492.42,652.73 492.40,657.00 C492.38,661.27 492.36,662.74 492.27,665.61 C492.18,668.48 492.04,671.35 491.87,674.22 C491.69,677.09 491.47,679.96 491.20,682.83 C490.93,685.70 490.62,688.57 490.27,691.44 C489.91,694.31 489.51,697.19 489.07,700.06 C488.62,702.93 488.13,705.80 487.60,708.67 C487.07,711.54 486.49,714.41 485.87,717.28 C485.24,720.15 484.58,723.02 483.87,725.89 C483.16,728.76 481.98,733.06 481.60,734.50" fill="none" stroke="#050505" stroke-width="1.12" stroke-linecap="round"/>
<rect x="368.90" y="479.30" width="26.30" height="8.6" fill="#fff"/>
<rect x="411.20" y="476.50" width="25.50" height="8.6" fill="#fff"/>
<rect x="395.50" y="485.30" width="25.70" height="8.6" fill="#fff"/>
<rect x="365.20" y="491.50" width="26.00" height="8.6" fill="#fff"/>
<rect x="423.40" y="495.20" width="26.30" height="8.6" fill="#fff"/>
<rect x="364.20" y="507.40" width="25.90" height="8.6" fill="#fff"/>
<rect x="434.70" y="486.50" width="25.90" height="8.6" fill="#fff"/>
<rect x="462.50" y="487.30" width="25.90" height="8.6" fill="#fff"/>
<rect x="472.30" y="497.40" width="30.80" height="8.6" fill="#fff"/>
<rect x="478.50" y="507.80" width="30.30" height="8.6" fill="#fff"/>
<rect x="488.30" y="516.80" width="30.30" height="8.6" fill="#fff"/>
<path d="M390.30,486.90 L407.20,513.70" fill="none" stroke="#050505" stroke-width="1.1" stroke-linecap="round"/>
<path d="M391.00,497.90 L398.70,514.90" fill="none" stroke="#050505" stroke-width="1.1" stroke-linecap="round"/>
<path d="M407.90,493.50 L415.00,515.60" fill="none" stroke="#050505" stroke-width="1.1" stroke-linecap="round"/>
<path d="M421.50,484.70 L421.90,517.10" fill="none" stroke="#050505" stroke-width="1.1" stroke-linecap="round"/>
<path d="M428.00,504.50 L432.00,519.90" fill="none" stroke="#050505" stroke-width="1.1" stroke-linecap="round"/>
<path d="M463.70,495.80 L454.40,520.70" fill="none" stroke="#050505" stroke-width="1.1" stroke-linecap="round"/>
<path d="M477.60,507.30 L465.00,525.60" fill="none" stroke="#050505" stroke-width="1.1" stroke-linecap="round"/>
<path d="M487.40,514.90 L478.10,528.80" fill="none" stroke="#050505" stroke-width="1.1" stroke-linecap="round"/>
<text x="369.30" y="486.50" font-size="8" fill="#1e1e1e">RD56S</text>
<text x="411.60" y="483.70" font-size="8" fill="#1e1e1e">RD68S</text>
<text x="395.90" y="492.50" font-size="8" fill="#1e1e1e">RD62S</text>
<text x="365.60" y="498.70" font-size="8" fill="#1e1e1e">RD47S</text>
<text x="423.80" y="502.40" font-size="8" fill="#1e1e1e">RD75S</text>
<text x="364.60" y="514.60" font-size="8" fill="#1e1e1e">RD43S</text>
<text x="435.10" y="493.70" font-size="8" fill="#1e1e1e">RD82S</text>
<text x="462.90" y="494.50" font-size="8" fill="#1e1e1e">RD91S</text>
<text x="472.70" y="504.60" font-size="8" fill="#1e1e1e">RD100S</text>
<text x="478.90" y="515.00" font-size="8" fill="#1e1e1e">RD110S</text>
<text x="488.70" y="524.00" font-size="8" fill="#1e1e1e">RD120S</text>
<text x="57.0" y="763.9" font-size="9.6" font-weight="bold" style="stroke:none" fill="#1a1a1a">6</text>
<text x="238.8" y="763.1" font-size="7.0" textLength="104" lengthAdjust="spacingAndGlyphs" fill="#1e1e1e">Data Sheet&#160;&#160;D11444EJ3V0DS00</text>
</svg>
</body></html>
